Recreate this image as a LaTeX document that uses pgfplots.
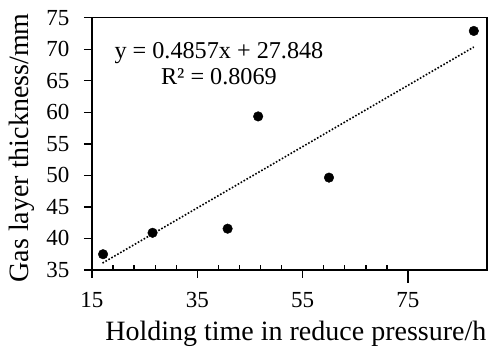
\documentclass[border=0pt]{standalone}
\usepackage{fontspec}
\setmainfont{Liberation Serif}
\usepackage{pgfplots}
\pgfplotsset{compat=1.18}
\begin{document}
\begin{tikzpicture}[x=1pt,y=1pt]
\path[use as bounding box] (-92,-78) rectangle (396,270);
\begin{axis}[
  at={(0,0)}, anchor=south west,
  scale only axis, width=395pt, height=252.3pt,
  xmin=15, xmax=90, ymin=35, ymax=75,
  xtick={15,35,55,75}, ytick={35,40,...,75},
  minor x tick num=4,
  tick pos=left,
  tick align=outside,
  major tick length=8pt, minor tick length=5pt,
  every minor x tick/.append style={yshift=5pt},
  every major x tick/.append style={shorten <=-5pt},
  axis line style={line width=1.4pt},
  every tick/.append style={line width=1.3pt, black},
  /pgf/number format/assume math mode=true,
  ticklabel style={font=\fontsize{23}{26}\selectfont},
  xticklabel style={yshift=-11pt},
  yticklabel style={xshift=-11pt},
  xlabel={Holding time in reduce pressure/h},
  ylabel={Gas layer thickness/mm},
  label style={font=\fontsize{28}{32}\selectfont},
  xlabel style={at={([yshift=-64pt]axis description cs:0.516,0)}, anchor=center},
  ylabel style={at={([xshift=-70pt]axis description cs:0,0.484)}, anchor=center},
]
\addplot[black, line width=1.6pt, dash pattern=on 1.6pt off 1.8pt] coordinates {(17,36.10) (87.5,70.35)};
\addplot[only marks, mark=*, mark size=4.8pt, black] coordinates {
(17.1,37.5) (26.5,40.9) (40.75,41.55) (46.55,59.35) (60,49.65) (87.5,72.9)};
\node[font=\fontsize{24.2}{28}\selectfont, anchor=center] at (axis cs:39.1,69.4) {y = 0.4857x + 27.848};
\node[font=\fontsize{24.2}{28}\selectfont, anchor=center] at (axis cs:39.1,65.6) {R² = 0.8069};
\end{axis}
\end{tikzpicture}
\end{document}
